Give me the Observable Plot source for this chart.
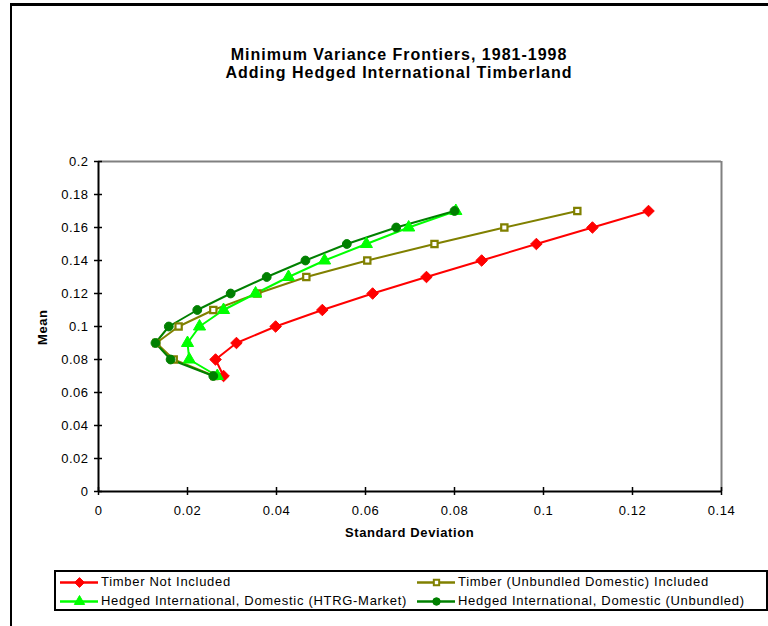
<!DOCTYPE html>
<html>
<head>
<meta charset="utf-8">
<script src="https://cdn.jsdelivr.net/npm/d3@7"></script>
<script src="https://cdn.jsdelivr.net/npm/@observablehq/plot@0.6"></script>
<style>
  html, body { margin: 0; padding: 0; background: #fff; }
  #wrap { position: relative; width: 768px; height: 626px; overflow: hidden; font-family: "Liberation Sans", Arial, sans-serif; }
  #frame { position: absolute; left: 10px; top: 3px; width: 770px; height: 700px; border-left: 2px solid #000; border-top: 3px solid #000; box-sizing: border-box; }
  .title { position: absolute; left: 0; width: 798px; text-align: center; font-weight: bold; font-size: 16px; letter-spacing: 1px; color: #000; }
  .axlabel { position: absolute; font-weight: bold; font-size: 13px; letter-spacing: 0.6px; color: #000; white-space: nowrap; }
  #legend { position: absolute; left: 54px; top: 570px; width: 714px; height: 41px; border: 2px solid #000; box-sizing: border-box; background: #fff; }
  .item { position: absolute; width: 340px; font-size: 13px; letter-spacing: 0.7px; height: 18px; line-height: 18px; white-space: nowrap; }
  .item svg { position: absolute; left: 0; top: 0; max-width: none; }
  .item span { position: absolute; left: 41px; top: 0; }
  #plot { position: absolute; left: 0; top: 0; }
</style>
</head>
<body>
<div id="wrap">
  <div id="frame"></div>
  <div class="title" style="top:46px">Minimum Variance Frontiers, 1981-1998</div>
  <div class="title" style="top:64px">Adding Hedged International Timberland</div>
  <div id="plot"></div>
  <div class="axlabel" style="left:345px; top:525px">Standard Deviation</div>
  <div class="axlabel" style="left:24px; top:318px; transform: rotate(-90deg); transform-origin: 19px 8px;">Mean</div>
  <div id="legend"></div>
</div>
<script>
// ---- Data ----
const means = [0.07, 0.08, 0.09, 0.10, 0.11, 0.12, 0.13, 0.14, 0.15, 0.16, 0.17];

const sdTimberNotIncluded = [0.0281, 0.0263, 0.0310, 0.0398, 0.0503, 0.0616, 0.0737, 0.0861, 0.0984, 0.1110, 0.1236];
const sdTimberUnbundled   = [0.0260, 0.0169, 0.0130, 0.0180, 0.0258, 0.0357, 0.0467, 0.0604, 0.0755, 0.0912, 0.1076];
const sdHedgedHTRG        = [0.0267, 0.0204, 0.0200, 0.0227, 0.0281, 0.0353, 0.0427, 0.0508, 0.0602, 0.0697, 0.0803];
const sdHedgedUnbundled   = [0.0258, 0.0162, 0.0128, 0.0158, 0.0222, 0.0297, 0.0378, 0.0465, 0.0558, 0.0669, 0.0800];

const seriesNames = [
  "Timber Not Included",
  "Timber (Unbundled Domestic) Included",
  "Hedged International, Domestic (HTRG-Market)",
  "Hedged International, Domestic (Unbundled)"
];
const seriesColors = ["#FF0000", "#808000", "#00FF00", "#008000"];
const seriesSymbols = ["diamond2", "square2", "triangle2", "circle"];

const xTicks = [0, 0.02, 0.04, 0.06, 0.08, 0.1, 0.12, 0.14];
const yTicks = [0, 0.02, 0.04, 0.06, 0.08, 0.1, 0.12, 0.14, 0.16, 0.18, 0.2];

// ---- Build table ----
const sdArrays = [sdTimberNotIncluded, sdTimberUnbundled, sdHedgedHTRG, sdHedgedUnbundled];
const rows = [];
sdArrays.forEach((arr, si) => {
  arr.forEach((sd, i) => rows.push({series: seriesNames[si], sd, mean: means[i]}));
});
const bySeries = name => rows.filter(r => r.series === name);

const fmt = d => String(+d.toFixed(2));

const marks = [
  // plot area border (grey, top and right)
  Plot.ruleY([0.2], {stroke: "#808080", strokeWidth: 2}),
  Plot.ruleX([0.14], {stroke: "#808080", strokeWidth: 2}),
  // axes lines
  Plot.ruleY([0], {stroke: "#000", strokeWidth: 2}),
  Plot.ruleX([0], {stroke: "#000", strokeWidth: 2}),
  // cross ticks
  Plot.axisX({ticks: xTicks, tickSize: 8, dy: -4, text: null, stroke: "#000", strokeWidth: 1.5}),
  Plot.axisY({ticks: yTicks, tickSize: 8, dx: 4, text: null, stroke: "#000", strokeWidth: 1.5}),
  // tick labels
  Plot.axisX({ticks: xTicks, tickSize: 0, tickPadding: 14, tickFormat: fmt, fontSize: 13, fill: "#000", label: null}),
  Plot.axisY({ticks: yTicks, tickSize: 0, tickPadding: 10, tickFormat: fmt, fontSize: 13, fill: "#000", label: null}),
];

// Lines
seriesNames.forEach((name, si) => {
  marks.push(Plot.line(bySeries(name), {x: "sd", y: "mean", stroke: seriesColors[si], strokeWidth: 2}));
});
// Markers
const symSize = [5.2, 4, 5.8, 4.4];
seriesNames.forEach((name, si) => {
  const isSquare = seriesSymbols[si] === "square2";
  marks.push(Plot.dot(bySeries(name), {
    x: "sd", y: "mean",
    symbol: seriesSymbols[si],
    r: symSize[si],
    fill: isSquare ? "#fff" : seriesColors[si],
    stroke: seriesColors[si],
    strokeWidth: isSquare ? 2.2 : 1
  }));
});

const chart = Plot.plot({
  width: 768,
  height: 626,
  marginTop: 161,
  marginBottom: 135,
  marginLeft: 98,
  marginRight: 47,
  style: {fontFamily: "'Liberation Sans', Arial, sans-serif", background: "transparent", color: "#000", letterSpacing: "0.5px"},
  x: {domain: [0, 0.14], label: null},
  y: {domain: [0, 0.2], label: null},
  marks
});
document.getElementById("plot").appendChild(chart);

// ---- Legend (HTML + small SVG swatches) ----
const legend = document.getElementById("legend");
const positions = [
  {left: 4, top: 1}, {left: 361, top: 1},
  {left: 4, top: 20}, {left: 361, top: 20}
];
seriesNames.forEach((name, si) => {
  const item = document.createElement("div");
  item.className = "item";
  item.style.left = positions[si].left + "px";
  item.style.top = positions[si].top + "px";
  const isSquare = seriesSymbols[si] === "square2";
  const sw = Plot.plot({
    width: 38, height: 18, margin: 0,
    x: {domain: [0, 1], axis: null}, y: {domain: [0, 1], axis: null},
    style: {background: "transparent", maxWidth: "none"},
    marks: [
      Plot.line([{a: 0, b: 0.5}, {a: 1, b: 0.5}], {x: "a", y: "b", stroke: seriesColors[si], strokeWidth: 2.5}),
      Plot.dot([{a: 0.5, b: 0.5}], {x: "a", y: "b", symbol: seriesSymbols[si], r: symSize[si] * 0.85,
        fill: isSquare ? "#fff" : seriesColors[si], stroke: seriesColors[si],
        strokeWidth: isSquare ? 2 : 1})
    ]
  });
  item.appendChild(sw);
  const span = document.createElement("span");
  span.textContent = name;
  item.appendChild(span);
  legend.appendChild(item);
});
</script>
</body>
</html>
